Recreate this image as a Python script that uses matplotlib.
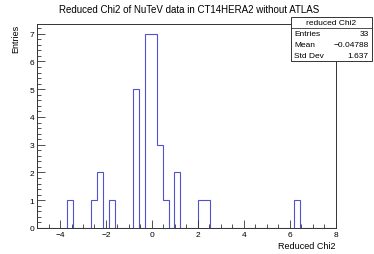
import matplotlib

matplotlib.use("Agg")
import matplotlib.pyplot as plt
import numpy as np
from matplotlib.patches import Rectangle
from matplotlib.ticker import MultipleLocator

X_MIN, X_MAX, N_BINS = -5.0, 8.0, 50

# bin contents, 50 bins of width 0.26 from -5 to 8
COUNTS = [
    0, 0, 0, 0, 0, 1, 0, 0, 0, 1,
    2, 0, 1, 0, 0, 0, 5, 0, 7, 7,
    3, 1, 0, 2, 0, 0, 0, 1, 1, 0,
    0, 0, 0, 0, 0, 0, 0, 0, 0, 0,
    0, 0, 0, 1, 0, 0, 0, 0, 0, 0,
]

TITLE = "Reduced Chi2 of NuTeV data in CT14HERA2 without ATLAS"
STATS_NAME = "reduced Chi2"
STATS_ROWS = [("Entries", "33"), ("Mean", "\u22120.04788"), ("Std Dev", "1.637")]

plt.rcParams["font.family"] = ["Liberation Sans", "DejaVu Sans"]

fig = plt.figure(figsize=(3.74, 2.55), dpi=100)
ax = fig.add_axes([0.099, 0.102, 0.799, 0.8])

edges = np.linspace(X_MIN, X_MAX, N_BINS + 1)
ax.stairs(COUNTS, edges, baseline=0, color="#5252cc", linewidth=0.8)

ax.set_xlim(X_MIN, X_MAX)
ax.set_ylim(0, max(COUNTS) * 1.05)

ax.xaxis.set_major_locator(MultipleLocator(2))
ax.xaxis.set_minor_locator(MultipleLocator(0.5))
ax.yaxis.set_major_locator(MultipleLocator(1))
ax.yaxis.set_minor_locator(MultipleLocator(0.2))
ax.tick_params(which="both", direction="in", top=False, right=False,
               labelsize=6, width=0.6, color="#333333")
ax.tick_params(which="major", length=6, pad=2)
ax.tick_params(which="minor", length=3)
for s in ax.spines.values():
    s.set_linewidth(0.7)
    s.set_color("#333333")

ax.set_xlabel("Reduced Chi2", fontsize=6.5, ha="right", x=1.0, labelpad=2)
ax.set_ylabel("Entries", fontsize=6.5, ha="right", y=1.0, labelpad=7)

fig.text(0.505, 0.96, TITLE, ha="center", va="center", fontsize=7)

# stats box
bx0, bx1 = 290.7 / 374, 371.7 / 374
by1, by0 = 1 - 17.7 / 255, 1 - 61.7 / 255
fig.patches.append(Rectangle((bx0, by0), bx1 - bx0, by1 - by0,
                             transform=fig.transFigure, facecolor="white",
                             edgecolor="#333333", linewidth=0.7, zorder=5))
row_h = (by1 - by0) / 4
fig.text((bx0 + bx1) / 2, by1 - row_h / 2, STATS_NAME, ha="center",
         va="center", fontsize=6, zorder=6)
fig.add_artist(plt.Line2D([bx0, bx1], [by1 - row_h, by1 - row_h],
                          transform=fig.transFigure, color="#333333",
                          linewidth=0.6, zorder=6))
for i, (k, v) in enumerate(STATS_ROWS):
    yy = by1 - row_h * (i + 1.5)
    fig.text(bx0 + 0.01, yy, k, ha="left", va="center", fontsize=6, zorder=6)
    fig.text(bx1 - 0.008, yy, v, ha="right", va="center", fontsize=6, zorder=6)

fig.savefig("out.png", dpi=100)
